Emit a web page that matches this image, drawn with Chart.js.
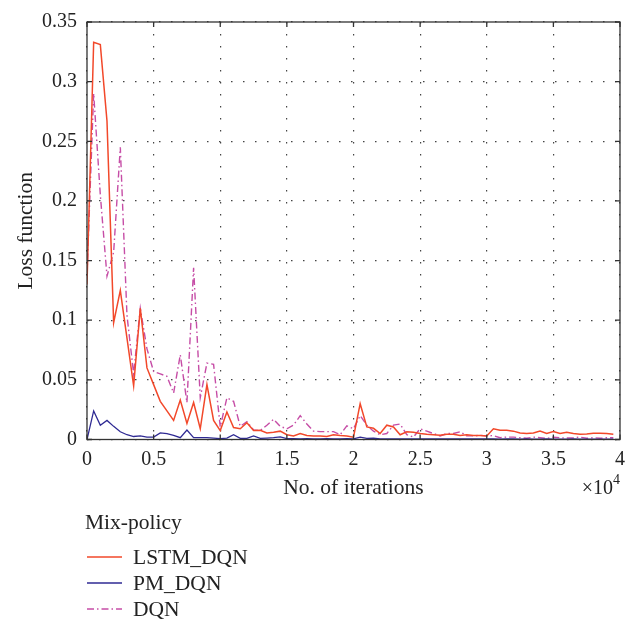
<!DOCTYPE html>
<html lang="en">
<head>
<meta charset="UTF-8">
<title>Loss function vs. iterations</title>
<script src="https://cdn.jsdelivr.net/npm/chart.js"></script>
<style>
  body { margin: 0; background: #fff; }
  #chart { display: block; }
</style>
</head>
<body>
<canvas id="chart" width="641" height="620"></canvas>
<script>
// sampled every 500 iterations
const iterations = [
  0, 500, 1000, 1500, 2000, 2500, 3000, 3500, 4000, 4500,
  5000, 5500, 6000, 6500, 7000, 7500, 8000, 8500, 9000, 9500,
  10000, 10500, 11000, 11500, 12000, 12500, 13000, 13500, 14000, 14500,
  15000, 15500, 16000, 16500, 17000, 17500, 18000, 18500, 19000, 19500,
  20000, 20500, 21000, 21500, 22000, 22500, 23000, 23500, 24000, 24500,
  25000, 25500, 26000, 26500, 27000, 27500, 28000, 28500, 29000, 29500,
  30000, 30500, 31000, 31500, 32000, 32500, 33000, 33500, 34000, 34500,
  35000, 35500, 36000, 36500, 37000, 37500, 38000, 38500, 39000, 39500
];

const lstmDqn = [
  0.130, 0.333, 0.331, 0.267, 0.098, 0.125, 0.085, 0.045, 0.110, 0.060,
  0.046, 0.032, 0.024, 0.016, 0.033, 0.0135, 0.031, 0.009, 0.046, 0.016,
  0.0075, 0.023, 0.010, 0.009, 0.014, 0.0075, 0.0077, 0.0055, 0.006, 0.007,
  0.004, 0.003, 0.005, 0.0033, 0.003, 0.003, 0.0025, 0.004, 0.0033, 0.003,
  0.002, 0.030, 0.0105, 0.0094, 0.005, 0.012, 0.0105, 0.004, 0.0064, 0.006,
  0.005, 0.0044, 0.004, 0.0036, 0.0044, 0.0044, 0.0033, 0.004, 0.0033, 0.0033,
  0.003, 0.009, 0.0077, 0.0077, 0.007, 0.0055, 0.005, 0.0055, 0.007, 0.005,
  0.0066, 0.005, 0.006, 0.005, 0.0044, 0.0047, 0.0052, 0.0052, 0.005, 0.0044
];

const pmDqn = [
  0.000, 0.024, 0.012, 0.016, 0.011, 0.0065, 0.004, 0.0025, 0.003, 0.002,
  0.002, 0.0055, 0.005, 0.0035, 0.0015, 0.008, 0.0015, 0.0015, 0.0015, 0.0012,
  0.0008, 0.0012, 0.004, 0.001, 0.001, 0.003, 0.001, 0.0012, 0.0015, 0.0022,
  0.0008, 0.0008, 0.0006, 0.0007, 0.0006, 0.0006, 0.0007, 0.0006, 0.0006, 0.0007,
  0.0006, 0.002, 0.001, 0.0012, 0.0006, 0.0005, 0.0006, 0.0005, 0.0005, 0.0006,
  0.0005, 0.0005, 0.0004, 0.0005, 0.0005, 0.0004, 0.0005, 0.0004, 0.0004, 0.0005,
  0.0004, 0.0004, 0.0003, 0.0004, 0.0004, 0.0003, 0.0004, 0.0003, 0.0003, 0.0004,
  0.0003, 0.0003, 0.0003, 0.0004, 0.0003, 0.0003, 0.0003, 0.0003, 0.0003, 0.0003
];

const dqn = [
  0.138, 0.290, 0.205, 0.137, 0.157, 0.245, 0.104, 0.055, 0.110, 0.076,
  0.057, 0.055, 0.053, 0.039, 0.071, 0.031, 0.144, 0.035, 0.064, 0.063,
  0.0106, 0.035, 0.032, 0.011, 0.015, 0.008, 0.0075, 0.012, 0.017, 0.011,
  0.009, 0.012, 0.020, 0.013, 0.007, 0.0066, 0.0066, 0.0066, 0.004, 0.0115,
  0.009, 0.020, 0.012, 0.007, 0.004, 0.005, 0.012, 0.013, 0.004, 0.002,
  0.009, 0.007, 0.005, 0.003, 0.005, 0.005, 0.0065, 0.003, 0.003, 0.0035,
  0.003, 0.0033, 0.0015, 0.002, 0.002, 0.0015, 0.001, 0.002, 0.0015, 0.001,
  0.002, 0.0015, 0.0012, 0.0015, 0.002, 0.001, 0.0015, 0.001, 0.0015, 0.0015
];

const xTicks = [0, 5000, 10000, 15000, 20000, 25000, 30000, 35000, 40000];
const yTicks = [0, 0.05, 0.1, 0.15, 0.2, 0.25, 0.3, 0.35];
const seriesNames = ['LSTM_DQN', 'PM_DQN', 'DQN'];
const legendTitle = 'Mix-policy';

const SERIF = '"Liberation Serif", "DejaVu Serif", serif';
const INK = '#222';

const toPoints = vals => vals.map((v, i) => ({ x: iterations[i], y: v }));

// box, inward ticks, x10^4 and the legend under the plot
const framePlugin = {
  id: 'frame',
  afterDraw(chart) {
    const { ctx, chartArea: a, scales: { x, y } } = chart;
    ctx.save();
    ctx.strokeStyle = '#333';
    ctx.lineWidth = 1.3;
    ctx.setLineDash([]);
    ctx.strokeRect(a.left, a.top, a.right - a.left, a.bottom - a.top);
    const t = 5;
    ctx.beginPath();
    xTicks.forEach(v => {
      const px = x.getPixelForValue(v);
      ctx.moveTo(px, a.bottom); ctx.lineTo(px, a.bottom - t);
      ctx.moveTo(px, a.top); ctx.lineTo(px, a.top + t);
    });
    yTicks.forEach(v => {
      const py = y.getPixelForValue(v);
      ctx.moveTo(a.left, py); ctx.lineTo(a.left + t, py);
      ctx.moveTo(a.right, py); ctx.lineTo(a.right - t, py);
    });
    ctx.stroke();

    // exponent label
    ctx.fillStyle = INK;
    ctx.textBaseline = 'middle';
    ctx.textAlign = 'right';
    ctx.font = '14px ' + SERIF;
    const supW = ctx.measureText('4').width;
    ctx.fillText('4', a.right, 480);
    ctx.font = '20px ' + SERIF;
    ctx.fillText('\u00d710', a.right - supW, 489);

    // legend
    ctx.textAlign = 'left';
    ctx.font = '21.5px ' + SERIF;
    ctx.fillText(legendTitle, 85, 523);
    const rows = [557, 583, 609];
    chart.data.datasets.forEach((ds, i) => {
      ctx.strokeStyle = ds.borderColor;
      ctx.lineWidth = ds.borderWidth;
      ctx.setLineDash(ds.borderDash || []);
      ctx.beginPath();
      ctx.moveTo(87, rows[i]);
      ctx.lineTo(122, rows[i]);
      ctx.stroke();
      ctx.fillStyle = INK;
      ctx.fillText(ds.label, 133, rows[i] + 1);
    });
    ctx.restore();
  }
};

new Chart(document.getElementById('chart'), {
  type: 'line',
  data: {
    datasets: [
      { label: seriesNames[0], data: toPoints(lstmDqn), borderColor: '#f2482a', borderWidth: 1.5 },
      { label: seriesNames[1], data: toPoints(pmDqn), borderColor: '#2f2a93', borderWidth: 1.3 },
      { label: seriesNames[2], data: toPoints(dqn), borderColor: '#c64da6', borderWidth: 1.4, borderDash: [7, 3, 1.5, 3] }
    ]
  },
  options: {
    responsive: false,
    animation: false,
    devicePixelRatio: 1,
    layout: { padding: { left: 0, right: 21, top: 17, bottom: 119 } },
    elements: { point: { radius: 0 }, line: { tension: 0, fill: false } },
    plugins: { legend: { display: false }, tooltip: { enabled: false } },
    scales: {
      x: {
        type: 'linear',
        min: 0,
        max: 40000,
        afterBuildTicks: s => { s.ticks = xTicks.map(v => ({ value: v })); },
        afterFit: s => { s.height = 61.5; },
        ticks: {
          padding: 8,
          color: INK,
          font: { family: SERIF, size: 20 },
          maxRotation: 0,
          callback: v => String(v / 10000)
        },
        grid: { color: '#444', lineWidth: 1.2, drawTicks: false },
        border: { display: false, dash: [1.5, 10.5] },
        title: {
          display: true,
          text: 'No. of iterations',
          color: INK,
          font: { family: SERIF, size: 21.5 },
          padding: { top: 0, bottom: 0 }
        }
      },
      y: {
        type: 'linear',
        min: 0,
        max: 0.35,
        afterBuildTicks: s => { s.ticks = yTicks.map(v => ({ value: v })); },
        afterFit: s => { s.width = 87; },
        ticks: {
          padding: 10,
          color: INK,
          font: { family: SERIF, size: 20 },
          callback: v => String(Math.round(v * 100) / 100)
        },
        grid: { color: '#444', lineWidth: 1.2, drawTicks: false },
        border: { display: false, dash: [1.5, 10.5] },
        title: {
          display: true,
          text: 'Loss function',
          color: INK,
          font: { family: SERIF, size: 21.5 },
          padding: { top: 13, bottom: 0 }
        }
      }
    }
  },
  plugins: [framePlugin]
});
</script>
</body>
</html>
